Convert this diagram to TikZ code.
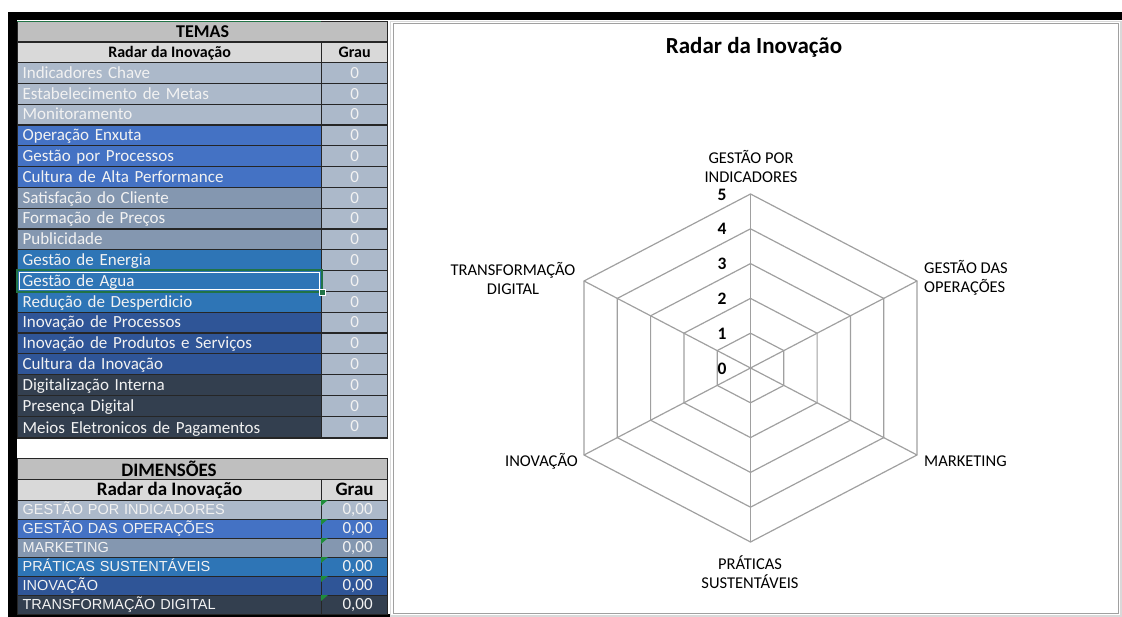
\documentclass[tikz,border=0pt]{standalone}
\usepackage{fontspec}
\setmainfont{Carlito}
\newfontfamily\arialfont{Liberation Sans}
\definecolor{cellline}{HTML}{262626}
\definecolor{celltext}{HTML}{F2F2F2}
\definecolor{hdrdark}{HTML}{BFBFBF}
\definecolor{hdrlight}{HTML}{D9D9D9}
\definecolor{cA}{HTML}{ACB9CA}
\definecolor{cB}{HTML}{4472C4}
\definecolor{cC}{HTML}{8497B0}
\definecolor{cD}{HTML}{2E75B6}
\definecolor{cE}{HTML}{2F5597}
\definecolor{cF}{HTML}{333F4F}
\definecolor{selgreen}{HTML}{217346}
\definecolor{markgreen}{HTML}{1E8C3A}
\definecolor{webgray}{HTML}{A0A0A0}
\usetikzlibrary{positioning}
\begin{document}
\begin{tikzpicture}[x=1pt,y=-1pt,
  tema/.style={draw=cellline, line width=1.2pt, anchor=north west, minimum height=20.8pt,
    text width=294pt, inner xsep=5pt, inner ysep=0pt, align=left, text=celltext,
    text height=12.5pt, text depth=2pt, font=\fontsize{17}{20}\selectfont},
  grau/.style={draw=cellline, line width=1.2pt, anchor=north west, minimum height=20.8pt,
    minimum width=66pt, inner sep=0pt, fill=cA, text=celltext,
    text height=12.5pt, text depth=2pt, font=\fontsize{17}{20}\selectfont},
  dim/.style={tema, minimum height=19pt, text height=11pt, text depth=2pt,
    font=\arialfont\fontsize{14.5}{17}\selectfont},
  dimgrau/.style={grau, minimum height=19pt, minimum width=0pt, text width=36pt,
    inner xsep=15pt, align=right, text height=11pt, text depth=2pt},
  hdr/.style={draw=cellline, line width=1.2pt, anchor=north west, minimum height=20.8pt,
    inner sep=0pt, fill=hdrlight, text height=12.5pt, text depth=1.5pt,
    font=\bfseries\fontsize{16}{18}\selectfont},
  lbl/.style={font=\fontsize{16.5}{19}\selectfont, align=center, inner sep=0pt},
  lvl/.style={font=\bfseries\fontsize{17.5}{17.5}\selectfont, inner sep=0pt},
  web/.style={draw=webgray, line width=1.2pt}]
\useasboundingbox (0,0) rectangle (1122,617);

% frame of the sheet
\fill[black] (8,12) rectangle (1122,20.5);
\fill[black] (8,12) rectangle (17,617);
\fill[black] (8,613.5) rectangle (390,617);

% chart box
\draw[hdrlight, line width=1.5pt] (390.5,21.5) rectangle (1121,616);
\draw[webgray, line width=1pt] (393,24) rectangle (1118.5,613.5);

% TEMAS table
\node[hdr, fill=hdrdark, minimum width=370pt, font=\bfseries\fontsize{18}{18}\selectfont] (temas) at (17,21) {TEMAS};
\draw[selgreen, line width=1.2pt] (17,21.3) -- (321,21.3);
\node[hdr, minimum width=304pt] (temasnome) at (17,41.5) {Radar da Inovação};
\node[hdr, minimum width=66pt] (temasgrau) at (321,41.5) {Grau};

\node[tema, fill=cA] (t1) at (17,62) {Indicadores Chave};
\node[grau] (g1) at (321,62) {0};
\node[tema, fill=cA] (t2) at (17,82.8) {Estabelecimento de Metas};
\node[grau] (g2) at (321,82.8) {0};
\node[tema, fill=cA] (t3) at (17,103.6) {Monitoramento};
\node[grau] (g3) at (321,103.6) {0};
\node[tema, fill=cB] (t4) at (17,124.4) {Operação Enxuta};
\node[grau] (g4) at (321,124.4) {0};
\node[tema, fill=cB] (t5) at (17,145.2) {Gestão por Processos};
\node[grau] (g5) at (321,145.2) {0};
\node[tema, fill=cB] (t6) at (17,166) {Cultura de Alta Performance};
\node[grau] (g6) at (321,166) {0};
\node[tema, fill=cC] (t7) at (17,186.8) {Satisfação do Cliente};
\node[grau] (g7) at (321,186.8) {0};
\node[tema, fill=cC] (t8) at (17,207.6) {Formação de Preços};
\node[grau] (g8) at (321,207.6) {0};
\node[tema, fill=cC] (t9) at (17,228.4) {Publicidade};
\node[grau] (g9) at (321,228.4) {0};
\node[tema, fill=cD] (t10) at (17,249.2) {Gestão de Energia};
\node[grau] (g10) at (321,249.2) {0};
\node[tema, fill=cD] (t11) at (17,270) {Gestão de Agua};
\node[grau] (g11) at (321,270) {0};
\node[tema, fill=cD] (t12) at (17,290.8) {Redução de Desperdicio};
\node[grau] (g12) at (321,290.8) {0};
\node[tema, fill=cE] (t13) at (17,311.6) {Inovação de Processos};
\node[grau] (g13) at (321,311.6) {0};
\node[tema, fill=cE] (t14) at (17,332.4) {Inovação de Produtos e Serviços};
\node[grau] (g14) at (321,332.4) {0};
\node[tema, fill=cE] (t15) at (17,353.2) {Cultura da Inovação};
\node[grau] (g15) at (321,353.2) {0};
\node[tema, fill=cF] (t16) at (17,374) {Digitalização Interna};
\node[grau] (g16) at (321,374) {0};
\node[tema, fill=cF] (t17) at (17,394.8) {Presença Digital};
\node[grau] (g17) at (321,394.8) {0};
\node[tema, fill=cF, minimum height=21.9pt, text depth=0pt] (t18) at (17,415.6) {Meios Eletronicos de Pagamentos};
\node[grau, minimum height=21.9pt, text depth=4.5pt] (g18) at (321,415.6) {0};

% selected cell
\draw[selgreen, line width=2pt] (t11.north west) rectangle (t11.south east);
\draw[white, line width=0.8pt] ([shift={(2.5,2.5)}]t11.north west) rectangle ([shift={(-2.5,-2.5)}]t11.south east);
\node[fill=selgreen, draw=white, line width=0.6pt, minimum size=6pt, inner sep=0pt] (handle) at (t11.south east) {};

% DIMENSOES table
\node[hdr, fill=hdrdark, minimum width=370pt] (dimensoes) at (17,458) {};
\node[font=\bfseries\fontsize{19}{19}\selectfont, inner sep=0pt] (dimtitulo) at (169,469) {DIMENSÕES};
\node[hdr, minimum width=304pt, font=\bfseries\fontsize{19}{19}\selectfont] (dimnome) at (17,479) {Radar da Inovação};
\node[hdr, minimum width=66pt, font=\bfseries\fontsize{19}{19}\selectfont] (dimgrau0) at (321,479) {Grau};

\node[dim, fill=cA] (d1) at (17,500) {GESTÃO POR INDICADORES};
\node[dimgrau, fill=cA] (dg1) at (321,500) {0,00};
\node[dim, fill=cB] (d2) at (17,519) {GESTÃO DAS OPERAÇÕES};
\node[dimgrau, fill=cB] (dg2) at (321,519) {0,00};
\node[dim, fill=cC] (d3) at (17,538) {MARKETING};
\node[dimgrau, fill=cC] (dg3) at (321,538) {0,00};
\node[dim, fill=cD] (d4) at (17,557) {PRÁTICAS SUSTENTÁVEIS};
\node[dimgrau, fill=cD] (dg4) at (321,557) {0,00};
\node[dim, fill=cE] (d5) at (17,576) {INOVAÇÃO};
\node[dimgrau, fill=cE] (dg5) at (321,576) {0,00};
\node[dim, fill=cF] (d6) at (17,595) {TRANSFORMAÇÃO DIGITAL};
\node[dimgrau, fill=cF] (dg6) at (321,595) {0,00};

% green marks
\fill[markgreen] (dg1.north west) -- ++(7,0) -- ++(-7,6) -- cycle;
\fill[markgreen] (dg2.north west) -- ++(7,0) -- ++(-7,6) -- cycle;
\fill[markgreen] (dg3.north west) -- ++(7,0) -- ++(-7,6) -- cycle;
\fill[markgreen] (dg4.north west) -- ++(7,0) -- ++(-7,6) -- cycle;
\fill[markgreen] (dg5.north west) -- ++(7,0) -- ++(-7,6) -- cycle;
\fill[markgreen] (dg6.north west) -- ++(7,0) -- ++(-7,6) -- cycle;

% radar
\node[font=\bfseries\fontsize{23}{23}\selectfont, inner sep=0pt] (titulo) at (754,47) {Radar da Inovação};

\coordinate (cen) at (750.5,368);
\coordinate (a1) at (750.5,194);
\coordinate (a2) at (917,281);
\coordinate (a3) at (917,455);
\coordinate (a4) at (750.5,542);
\coordinate (a5) at (584,455);
\coordinate (a6) at (584,281);

\draw[web] (750.5,333.2) -- (783.8,350.6) -- (783.8,385.4) -- (750.5,402.8) -- (717.2,385.4) -- (717.2,350.6) -- cycle;
\draw[web] (750.5,298.4) -- (817.1,333.2) -- (817.1,402.8) -- (750.5,437.6) -- (683.9,402.8) -- (683.9,333.2) -- cycle;
\draw[web] (750.5,263.6) -- (850.4,315.8) -- (850.4,420.2) -- (750.5,472.4) -- (650.6,420.2) -- (650.6,315.8) -- cycle;
\draw[web] (750.5,228.8) -- (883.7,298.4) -- (883.7,437.6) -- (750.5,507.2) -- (617.3,437.6) -- (617.3,298.4) -- cycle;
\draw[web] (a1) -- (a2) -- (a3) -- (a4) -- (a5) -- (a6) -- cycle;
\draw[web] (cen) -- (a1);
\draw[web] (cen) -- (a2);
\draw[web] (cen) -- (a3);
\draw[web] (cen) -- (a4);
\draw[web] (cen) -- (a5);
\draw[web] (cen) -- (a6);

\node[lvl] (n0) at (722,369) {0};
\node[lvl] (n1) at (722,334) {1};
\node[lvl] (n2) at (722,299) {2};
\node[lvl] (n3) at (722,264) {3};
\node[lvl] (n4) at (722,229) {4};
\node[lvl] (n5) at (722,195) {5};

\node[lbl] (gpi) at (751,166) {GESTÃO POR\\INDICADORES};
\node[lbl, anchor=west, align=left] (gdo) at (924,278) {GESTÃO DAS\\OPERAÇÕES};
\node[lbl, anchor=west] (mkt) at (924,461) {MARKETING};
\node[lbl] (pst) at (750,572) {PRÁTICAS\\SUSTENTÁVEIS};
\node[lbl, anchor=east] (ino) at (578,461) {INOVAÇÃO};
\node[lbl] (trd) at (513,278) {TRANSFORMAÇÃO\\DIGITAL};
\end{tikzpicture}
\end{document}
